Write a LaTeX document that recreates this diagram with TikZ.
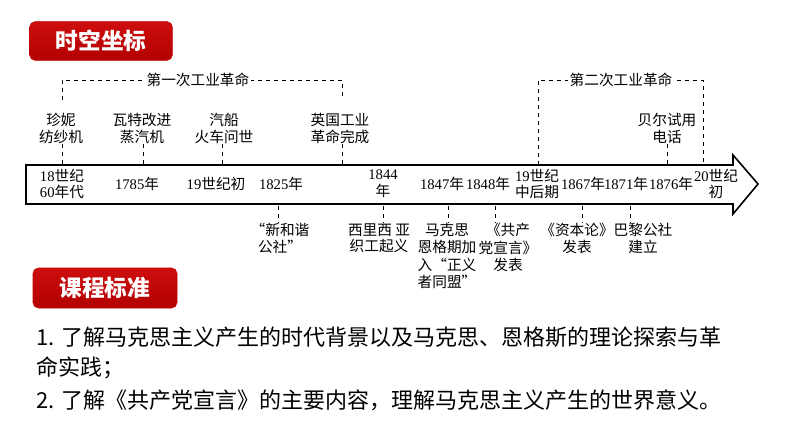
\documentclass[tikz,border=0pt]{standalone}
\usepackage{fontspec}
\setmainfont{Noto Sans CJK SC}
\newfontfamily\numfont{Liberation Serif}
\usetikzlibrary{positioning}
\definecolor{titlered}{RGB}{192,0,0}
\definecolor{titletop}{RGB}{206,14,14}
\definecolor{titlebottom}{RGB}{178,0,0}
\newcommand{\yr}[1]{{\numfont #1}}

\begin{document}
\begin{tikzpicture}[x=0.75pt, y=-0.75pt,
    titlebox/.style={rounded corners=4pt, top color=titletop, bottom color=titlebottom,
      draw=titlered, text=white,
      font=\fontsize{17}{20}\selectfont\bfseries, inner sep=0pt,
      minimum width=107pt, minimum height=29pt},
    event/.style={align=center, font=\fontsize{11}{12.5}\selectfont, inner sep=0pt},
    period/.style={align=center, font=\fontsize{11}{12.5}\selectfont, inner sep=0pt},
    revlabel/.style={fill=white, font=\fontsize{11}{12}\selectfont, inner sep=1pt},
    tick/.style={dashed, thin},
    bracket/.style={dashed, thin},
    standard/.style={anchor=west, font=\fontsize{16.5}{20}\selectfont, inner sep=0pt}]
  \useasboundingbox (0,0) rectangle (794,447);

  % headings
  \node[titlebox] (spacetime) at (101,41) {时空坐标};
  \node[titlebox, minimum width=108pt, minimum height=30pt] (course) at (105,288) {课程标准};

  % timeline arrow
  \draw[line width=1.2pt, fill=white] (26,165) -- (733,165) -- (733,155) -- (758,184)
    -- (733,214) -- (733,204) -- (26,204) -- cycle;

  % years on the arrow
  \node[period] (y1760) at (62,184) {\yr{18}世纪\\\yr{60}年代};
  \node[period] (y1800) at (216,184) {\yr{19}世纪初};
  \node[period] (y1844) at (383,184) {\yr{1844}\\年};
  \node[period] (y1850) at (537,184) {\yr{19}世纪\\中后期};
  \node[period] (y1900) at (716,184) {\yr{20}世纪\\初};
  \foreach \x/\y in {137/1785, 281/1825, 442/1847, 488/1848, 583/1867, 626/1871, 671/1876}
    \node[period] (y\y) at (\x,184) {\yr{\y}年};

  % events above
  \node[event, anchor=south] (jenny) at (61,144) {珍妮\\纺纱机};
  \node[event, anchor=south] (watt) at (142,144) {瓦特改进\\蒸汽机};
  \node[event, anchor=south] (steam) at (224,144) {汽船\\火车问世};
  \node[event, anchor=south] (britain) at (340,144) {英国工业\\革命完成};
  \node[event, anchor=south] (bell) at (667,144) {贝尔试用\\电话};
  \foreach \n/\t in {jenny/62, watt/143, steam/222, britain/342, bell/667} {
    \coordinate (t\n) at (\t,164);
    \draw[tick] (\n.south -| t\n) -- (t\n);
  }

  % events below
  \node[event, anchor=north] (harmony) at (280,223) {“新和谐\\公社”};
  \node[event, anchor=north] (silesia) at (379,223) {西里西 亚\\织工起义};
  \node[event, anchor=north, font=\fontsize{11}{13}\selectfont] (league) at (447,223) {马克思\\恩格期加\\入“正义\\者同盟”};
  \node[event, anchor=north, font=\fontsize{11}{13}\selectfont] (manifesto) at (508,223) {《共产\\党宣言》\\发表};
  \node[event, anchor=north] (capital) at (577,223) {《资本论》\\发表};
  \node[event, anchor=north] (commune) at (643,223) {巴黎公社\\建立};
  \foreach \n/\t in {harmony/278, silesia/383, league/448, manifesto/495, capital/582, commune/630} {
    \coordinate (b\n) at (\t,206);
    \draw[tick] (b\n) -- (\n.north -| b\n);
  }

  % industrial revolutions
  \draw[bracket] (62,100) -- (62,80) -- (342,80) -- (342,100);
  \node[revlabel] (rev1) at (198,80) {第一次工业革命};
  \draw[bracket] (538,165) -- (538,80) -- (703,80) -- (703,165);
  \node[revlabel] (rev2) at (621,80) {第二次工业革命};

  % curriculum standard
  \node[standard] (std1) at (36,337) {1. 了解马克思主义产生的时代背景以及马克思、恩格斯的理论探索与革};
  \node[standard] (std2) at (36,368) {命实践；};
  \node[standard] (std3) at (36,400) {2. 了解《共产党宣言》的主要内容，理解马克思主义产生的世界意义。};
\end{tikzpicture}
\end{document}
